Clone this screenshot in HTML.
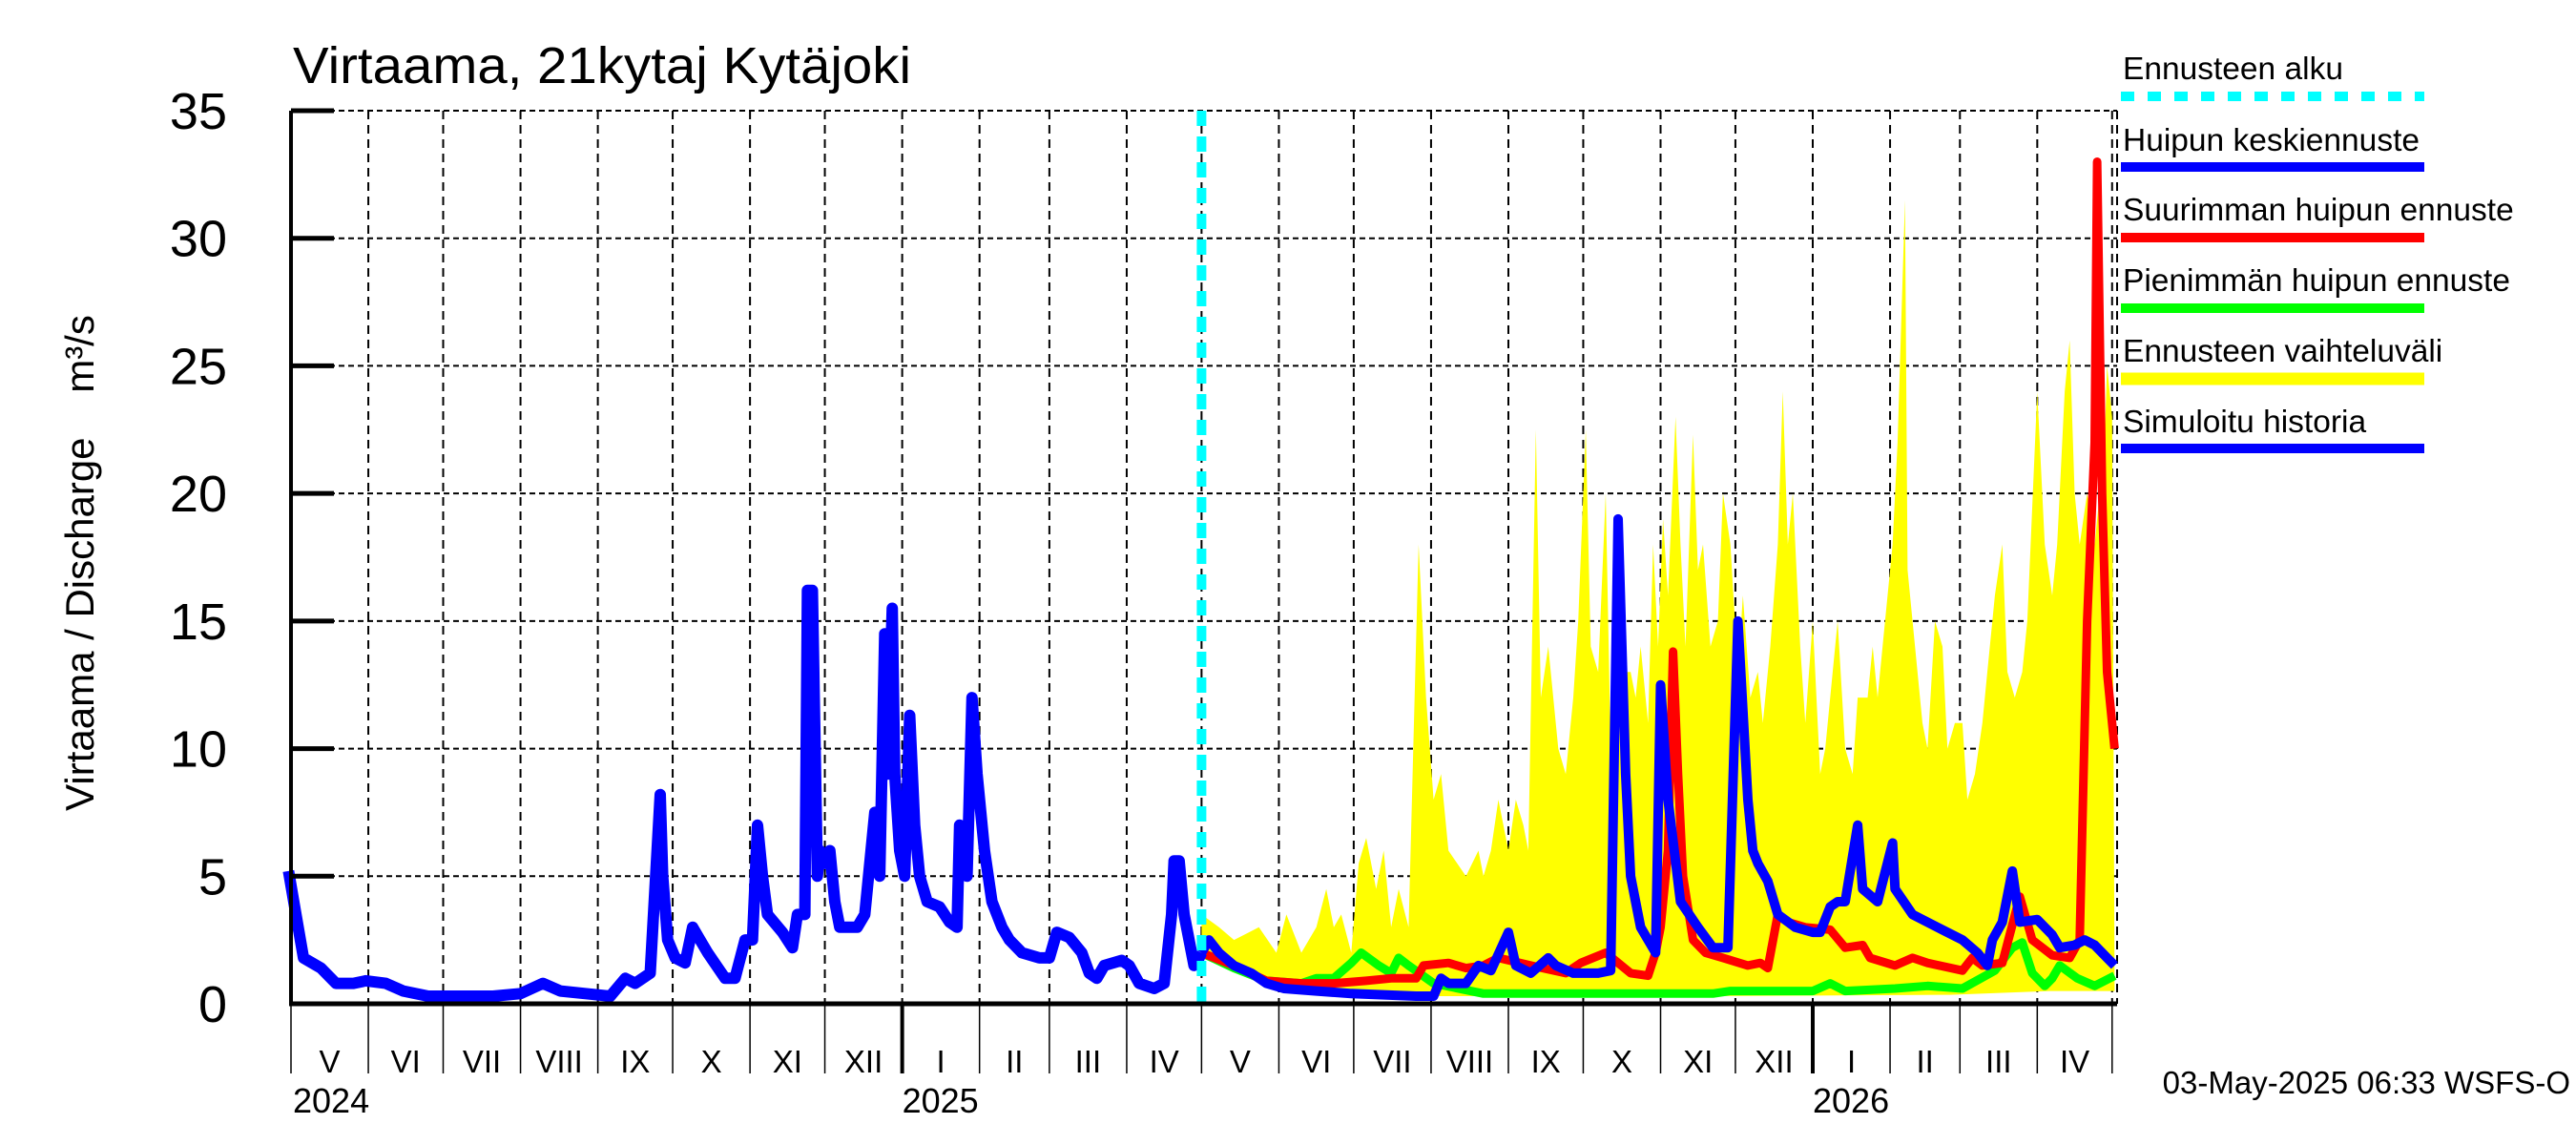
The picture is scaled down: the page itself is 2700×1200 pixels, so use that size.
<!DOCTYPE html>
<html><head><meta charset="utf-8"><title>Virtaama, 21kytaj Kytäjoki</title>
<style>html,body{margin:0;padding:0;background:#fff}svg{display:block}text{font-family:"Liberation Sans",sans-serif}</style>
</head><body>
<svg id="chart" xmlns="http://www.w3.org/2000/svg" width="2700" height="1200" viewBox="0 0 2700 1200">
<rect width="2700" height="1200" fill="#fff"/>
<text x="307" y="87" font-size="54" textLength="648" lengthAdjust="spacingAndGlyphs">Virtaama, 21kytaj Kytäjoki</text>
<text transform="translate(98,590) rotate(-90)" font-size="42" text-anchor="middle" xml:space="preserve">Virtaama / Discharge    m³/s</text>
<g id="grid"></g>
<g id="series"></g>
<g id="axes"></g>
<g font-size="33.5">
 <text x="2225" y="83">Ennusteen alku</text>
 <line x1="2223" y1="101" x2="2541" y2="101" stroke="#00ffff" stroke-width="10" stroke-dasharray="14 14"/>
 <text x="2225" y="158">Huipun keskiennuste</text>
 <line x1="2223" y1="175" x2="2541" y2="175" stroke="#0000ff" stroke-width="10"/>
 <text x="2225" y="231">Suurimman huipun ennuste</text>
 <line x1="2223" y1="249" x2="2541" y2="249" stroke="#ff0000" stroke-width="10"/>
 <text x="2225" y="305">Pienimmän huipun ennuste</text>
 <line x1="2223" y1="323" x2="2541" y2="323" stroke="#00ff00" stroke-width="10"/>
 <text x="2225" y="379">Ennusteen vaihteluväli</text>
 <line x1="2223" y1="397" x2="2541" y2="397" stroke="#ffff00" stroke-width="13"/>
 <text x="2225" y="453">Simuloitu historia</text>
 <line x1="2223" y1="470" x2="2541" y2="470" stroke="#0000ff" stroke-width="10"/>
</g>
<text x="2694" y="1146" font-size="33" text-anchor="end">03-May-2025 06:33 WSFS-O</text>
</svg>
<script>
// days relative to 2025-01-01
const histDays=[-246,-243,-240,-233,-227,-220,-215,-207,-200,-190,-177,-164,-153,-144,-137,-127,-117,-111,-107,-101,-97,-96,-94,-91,-87,-84,-81,-78,-71,-67,-63,-60,-58,-56,-54,-48,-44,-42,-39,-38,-36,-34,-33,-31,-29,-27,-25,-18,-15,-11,-9,-7,-6,-4,-3,-1,1,3,5,7,10,15,19,22,23,26,28,30,33,36,40,43,48,55,59,62,67,72,75,78,81,88,91,95,101,105,108,109,111,113,115,117,119,120];
const histVals=[5.2,3.5,1.8,1.4,0.8,0.8,0.9,0.8,0.5,0.3,0.3,0.3,0.4,0.8,0.5,0.4,0.3,1.0,0.8,1.2,8.2,5,2.5,1.8,1.6,3,2.5,2.0,1.0,1.0,2.5,2.5,7,5,3.5,2.8,2.2,3.5,3.5,16.2,16.2,5,6,5.5,6,4,3,3,3.5,7.5,5,14.5,9,15.5,9,6,5,11.3,7,5,4,3.8,3.2,3.0,7,5,12,9,6,4,3,2.5,2.0,1.8,1.8,2.8,2.6,2.0,1.2,1.0,1.5,1.7,1.5,0.8,0.6,0.8,3.5,5.6,5.6,3.5,2.5,1.5,1.8,2.0];
const forecastStart=120; // forecast days below are relative to this
const meanDays=[0,3,7,13,20,26,33,46,60,86,93,96,99,106,111,116,123,126,132,139,142,149,159,164,167,170,172,176,179,182,184,187,192,199,205,211,215,219,221,223,227,231,238,245,248,252,255,258,263,265,271,277,278,285,295,305,311,315,317,321,325,328,335,341,344,350,354,358,363,366];
const meanVals=[2.0,2.5,2.0,1.5,1.2,0.8,0.6,0.5,0.4,0.3,0.3,1.0,0.8,0.8,1.5,1.3,2.8,1.5,1.2,1.8,1.5,1.2,1.2,1.3,19,9,5,3,2.5,2.0,12.5,8,4,3.0,2.2,2.2,15,8,6,5.5,4.8,3.5,3.0,2.8,2.8,3.8,4,4,7,4.5,4,6.3,4.5,3.5,3.0,2.5,2.0,1.5,2.5,3.2,5.2,3.2,3.3,2.7,2.2,2.3,2.5,2.3,1.8,1.5];
const maxDays=[0,13,26,40,53,66,76,86,89,99,106,113,119,132,146,152,162,172,179,182,184,187,189,191,193,197,202,209,219,224,227,231,235,242,252,258,265,268,278,285,291,305,309,313,321,328,333,341,348,352,355,358,359,361,363,366];
const maxVals=[2.0,1.5,0.9,0.8,0.8,0.9,1.0,1.0,1.5,1.6,1.4,1.5,1.8,1.5,1.2,1.6,2.0,1.2,1.1,2.0,3,6,13.8,9,5,2.5,2.0,1.8,1.5,1.6,1.4,3.5,3.2,3.0,2.9,2.2,2.3,1.8,1.5,1.8,1.6,1.3,1.8,1.5,1.6,4.2,2.5,1.9,1.8,2.5,15,22,33,20,13,10];
const minDays=[0,13,26,40,46,53,60,64,71,76,79,83,93,113,146,179,205,212,238,245,252,258,278,291,305,318,325,329,333,338,341,344,351,358,366];
const minVals=[2.0,1.4,0.9,0.8,1.0,1.0,1.6,2.0,1.5,1.2,1.8,1.5,0.8,0.4,0.4,0.4,0.4,0.5,0.5,0.5,0.8,0.5,0.6,0.7,0.6,1.3,2.2,2.4,1.2,0.7,1.0,1.5,1.0,0.7,1.1];
const bandTopDays=[0,7,13,19,23,30,34,40,46,50,53,56,60,63,66,70,73,76,79,83,87,90,93,96,99,106,111,113,116,119,123,126,129,131,134,136,139,143,146,149,151,154,156,159,162,164,167,170,172,174,176,179,181,183,185,187,190,192,194,197,199,201,204,207,209,212,215,217,220,223,225,228,231,233,235,237,240,242,245,248,250,253,255,258,261,263,267,269,271,274,277,279,282,283,286,289,291,294,297,299,302,305,307,310,313,315,318,321,323,326,329,331,335,338,341,343,346,348,350,352,355,358,362,363,365];
const bandTopVals=[3.5,3,2.5,2.8,3,2,3.5,2,3,4.5,3,3.5,2,5.5,6.5,4.5,6,3,4.5,3,18,12,8,9,6,5,6,5,6,8,6,8,7,6,22.5,12,14,10,9,12,15,22.5,14,13,20,10,12,13,13,12,14,11,18,14,19,16,23,18,14,22.3,17,18,14,15,20,18,13,16,12,13,11,14,18,24,18,20,14,11,15,9,10,13,15,10,9,12,12,14,12,15,18,22,31.5,17,14,11,10,15,14,10,11,11,8,9,11,13,16,18,13,12,13,15,24,18,16,18,24,26,20,18,20,18,22,25,23];
const bandLowDays=[0,20,40,60,93,200,300,340,366];
const bandLowVals=[1.8,1.0,0.5,0.4,0.3,0.3,0.35,0.5,0.5];
const yTicks=[0,5,10,15,20,25,30,35];
const monthLabels=["V","VI","VII","VIII","IX","X","XI","XII","I","II","III","IV","V","VI","VII","VIII","IX","X","XI","XII","I","II","III","IV"];
const monthStarts=[-245,-214,-184,-153,-122,-92,-61,-31,0,31,59,90,120,151,181,212,243,273,304,334,365,396,424,455,485];
const yearLabels=["2024","2025","2026"];
const yearStarts=[-246,0,365];

const NS="http://www.w3.org/2000/svg";
const L=305,R=2219,T=116,B=1052,D0=-245,D1=487,YMAX=35;
const xs=d=>L+(d-D0)*(R-L)/(D1-D0);
const ys=v=>B-v*(B-T)/YMAX;
function mk(tag,attrs,parent){const e=document.createElementNS(NS,tag);for(const k in attrs)e.setAttribute(k,attrs[k]);parent.appendChild(e);return e;}
const grid=document.getElementById('grid'),series=document.getElementById('series'),axes=document.getElementById('axes');

yTicks.forEach(v=>{
 if(v>0){const g=mk('line',{x1:L,x2:R,y1:ys(v),y2:ys(v),stroke:'#000','stroke-width':2,'stroke-dasharray':'6 4'},grid);
 
 }
 const t=mk('line',{x1:L,x2:L+45,y1:ys(v),y2:ys(v),stroke:'#000','stroke-width':5},axes);
 
 
 const lb=mk('text',{x:238,y:ys(v)+19,'font-size':54,'text-anchor':'end'},axes);
 
 
 lb.textContent=v;
});
monthStarts.forEach((d,i)=>{
 const isYear=yearStarts.indexOf(d)>=0;
 if(d>D0&&d<D1){const g=mk('line',{x1:xs(d),x2:xs(d),y1:T,y2:B,stroke:'#000','stroke-width':2,'stroke-dasharray':'9 6'},grid);
 
 }
 const t=mk('line',{x1:xs(d),x2:xs(d),y1:B,y2:1125,stroke:'#000','stroke-width':isYear?4:1.5},axes);
 
 
 if(i<monthLabels.length){const lb=mk('text',{x:(xs(d)+xs(monthStarts[i+1]))/2,y:1124,'font-size':33,'text-anchor':'middle'},axes);
 
 
 lb.textContent=monthLabels[i];}
});
{const g=mk('line',{x1:R,x2:R,y1:T,y2:B,stroke:'#000','stroke-width':2,'stroke-dasharray':'9 6'},grid);

}
yearLabels.forEach((y,i)=>{const lb=mk('text',{x:Math.max(xs(yearStarts[i]),L+2),y:1166,'font-size':36},axes);
 
 
 lb.textContent=y;});

function pts(days,vals,off){return days.map((d,i)=>xs(d+off).toFixed(1)+','+ys(vals[i]).toFixed(1));}
const band=mk('polygon',{points:pts(bandTopDays,bandTopVals,forecastStart).concat(pts(bandLowDays,bandLowVals,forecastStart).reverse()).join(' '),fill:'#ffff00'},series);


function line(days,vals,off,col,w,name){const p=mk('polyline',{points:pts(days,vals,off).join(' '),fill:'none',stroke:col,'stroke-width':w,'stroke-linejoin':'round'},series);
 
 }
line(minDays,minVals,forecastStart,'#00ff00',9,'min-peak-forecast');
line(maxDays,maxVals,forecastStart,'#ff0000',9,'max-peak-forecast');
line(meanDays,meanVals,forecastStart,'#0000ff',10,'mean-peak-forecast');
line(histDays,histVals,0,'#0000ff',12,'simulated-history');
{const c=mk('line',{x1:xs(forecastStart),x2:xs(forecastStart),y1:T,y2:B,stroke:'#00ffff','stroke-width':10,'stroke-dasharray':'16 11'},series);

}
{const a=mk('line',{x1:L,x2:L,y1:T,y2:B+2,stroke:'#000','stroke-width':4},axes);


const b=mk('line',{x1:L-2,x2:R,y1:B,y2:B,stroke:'#000','stroke-width':5},axes);

}
</script>
</body></html>
